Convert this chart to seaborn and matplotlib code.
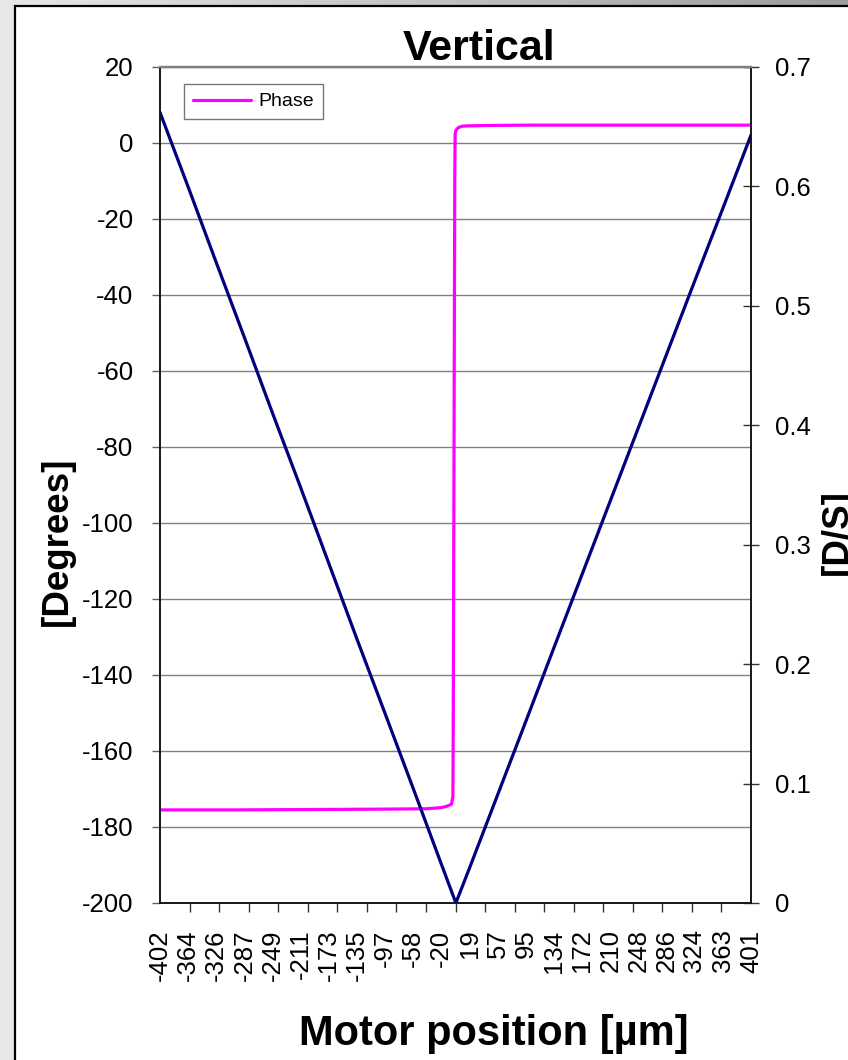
import numpy as np
import pandas as pd
import matplotlib
matplotlib.use("Agg")
import matplotlib.pyplot as plt
from matplotlib.patches import Rectangle
from matplotlib.colors import LinearSegmentedColormap
from matplotlib.lines import Line2D
import seaborn as sns

# Phase trace [Degrees] vs motor position [µm]
phase_pos = [-402, -300, -200, -100, -40, -20, -13, -6, -4, -3.5, -2.5,
             -1.5, -1, 0, 3, 8, 15, 40, 100, 200, 300, 401]
phase_deg = [-175.5, -175.5, -175.4, -175.3, -175.2, -174.9, -174.6, -174.0,
             -172.0, -150.0, -80.0, -10.0, 2.4, 3.3, 4.0, 4.4, 4.5, 4.6,
             4.7, 4.7, 4.7, 4.7]

# D/S trace vs motor position [µm]
ds_pos = [-402, -364, -326, -287, -249, -211, -173, -135, -97, -58, -20, 0,
          19, 57, 95, 134, 172, 210, 248, 286, 324, 363, 401]
ds_val = [0.662, 0.600, 0.537, 0.473, 0.410, 0.348, 0.285, 0.222, 0.160,
          0.096, 0.033, 0.000, 0.030, 0.091, 0.152, 0.215, 0.276, 0.337,
          0.398, 0.459, 0.520, 0.582, 0.643]

x_labels = [-402, -364, -326, -287, -249, -211, -173, -135, -97, -58, -20,
            19, 57, 95, 134, 172, 210, 248, 286, 324, 363, 401]
left_ticks = [-200, -180, -160, -140, -120, -100, -80, -60, -40, -20, 0, 20]
right_ticks = [0, 0.1, 0.2, 0.3, 0.4, 0.5, 0.6, 0.7]
right_labels = ["0", "0.1", "0.2", "0.3", "0.4", "0.5", "0.6", "0.7"]

phase_df = pd.DataFrame({"pos": phase_pos, "phase": phase_deg})
ds_df = pd.DataFrame({"pos": ds_pos, "ds": ds_val})

sns.set_style("white")
plt.rcParams["font.family"] = ["Liberation Sans", "DejaVu Sans"]
plt.rcParams["axes.unicode_minus"] = False
plt.rcParams["text.color"] = "black"
plt.rcParams["xtick.color"] = "black"
plt.rcParams["ytick.color"] = "black"

W, H = 848, 1060
fig = plt.figure(figsize=(W / 100, H / 100), dpi=100)

# grey gradient backdrop and white chart frame
bg = fig.add_axes([0, 0, 1, 1], zorder=-2)
grad = LinearSegmentedColormap.from_list("bg", ["#e8e8e8", "#9c9c9c"])
bg.imshow(np.linspace(0, 1, 256)[None, :], cmap=grad, aspect="auto",
          extent=[0, 1, 0, 1])
bg.axis("off")
fig.add_artist(Rectangle((14.5 / W, -0.1), 1.2, 1.1 - 6.5 / H,
                         transform=fig.transFigure, facecolor="white",
                         edgecolor="black", linewidth=1.6, zorder=-1))

left, right, top, bottom = 160, 751, 67, 903
ax = fig.add_axes([left / W, 1 - bottom / H, (right - left) / W,
                   (bottom - top) / H])
ax.set_facecolor("white")

sns.lineplot(data=phase_df, x="pos", y="phase", ax=ax, color="#ff00ff",
             linewidth=2.3, sort=False)
ax.set_xlim(-402, 401)
ax.set_ylim(-200, 20)
ax.set_yticks(left_ticks)
ax.set_xticks(x_labels)
ax.set_xticklabels([str(v) for v in x_labels], rotation=90)
ax.set_xticks(np.linspace(-402, 401, 21), minor=True)
ax.set_xlabel("")
ax.set_ylabel("")
ax.grid(axis="y", color="#808080", linewidth=1.0)
ax.tick_params(axis="y", which="major", direction="out", length=6,
               width=1, color="#606060", labelcolor="black",
               labelsize=18.5, pad=13)
ax.tick_params(axis="x", which="major", length=0, labelcolor="black",
               labelsize=18.5, pad=19)
ax.tick_params(axis="x", which="minor", direction="out", length=6.5,
               width=1, color="#333333", bottom=True)

ax2 = ax.twinx()
sns.lineplot(data=ds_df, x="pos", y="ds", ax=ax2, color="#000080",
             linewidth=2.3, sort=False)
ax2.set_xlim(-402, 401)
ax2.set_ylim(0, 0.7)
ax2.set_yticks(right_ticks)
ax2.set_yticklabels(right_labels)
ax2.set_ylabel("")
ax2.tick_params(axis="y", direction="inout", length=11.5, width=1,
                color="#333333", labelcolor="black", labelsize=18.5,
                pad=11.5)

for a in (ax, ax2):
    for side in ("left", "right", "bottom"):
        a.spines[side].set_color("#111111")
        a.spines[side].set_linewidth(1.1)
    a.spines["top"].set_color("#808080")
    a.spines["top"].set_linewidth(1.6)

handle = Line2D([], [], color="#ff00ff", linewidth=2.3)
leg = ax.legend([handle], ["Phase"], loc="upper left",
                bbox_to_anchor=((184 - left) / (right - left),
                                (bottom - 84) / (bottom - top)),
                borderaxespad=0, fontsize=14, handlelength=3.0,
                handletextpad=0.4, borderpad=0.45, fancybox=False,
                frameon=True)
leg.get_frame().set_edgecolor("#555555")
leg.get_frame().set_linewidth(1.0)
for t in leg.get_texts():
    t.set_color("black")

fig.text(479 / W, 1 - 59.5 / H, "Vertical", ha="center", va="baseline",
         fontsize=31, fontweight="bold", color="black")
fig.text(494 / W, 1 - 1045 / H, "Motor position [µm]", ha="center",
         va="baseline", fontsize=30, fontweight="bold", color="black")
fig.text(57 / W, 1 - 541 / H, "[Degrees]", ha="center", va="center",
         rotation=90, fontsize=26.5, fontweight="bold", color="black")
fig.text(820 / W, 1 - 532 / H, "[D/S]", ha="left", va="center",
         rotation=90, fontsize=26.5, fontweight="bold", color="black")

fig.savefig("out.png", dpi=100)
